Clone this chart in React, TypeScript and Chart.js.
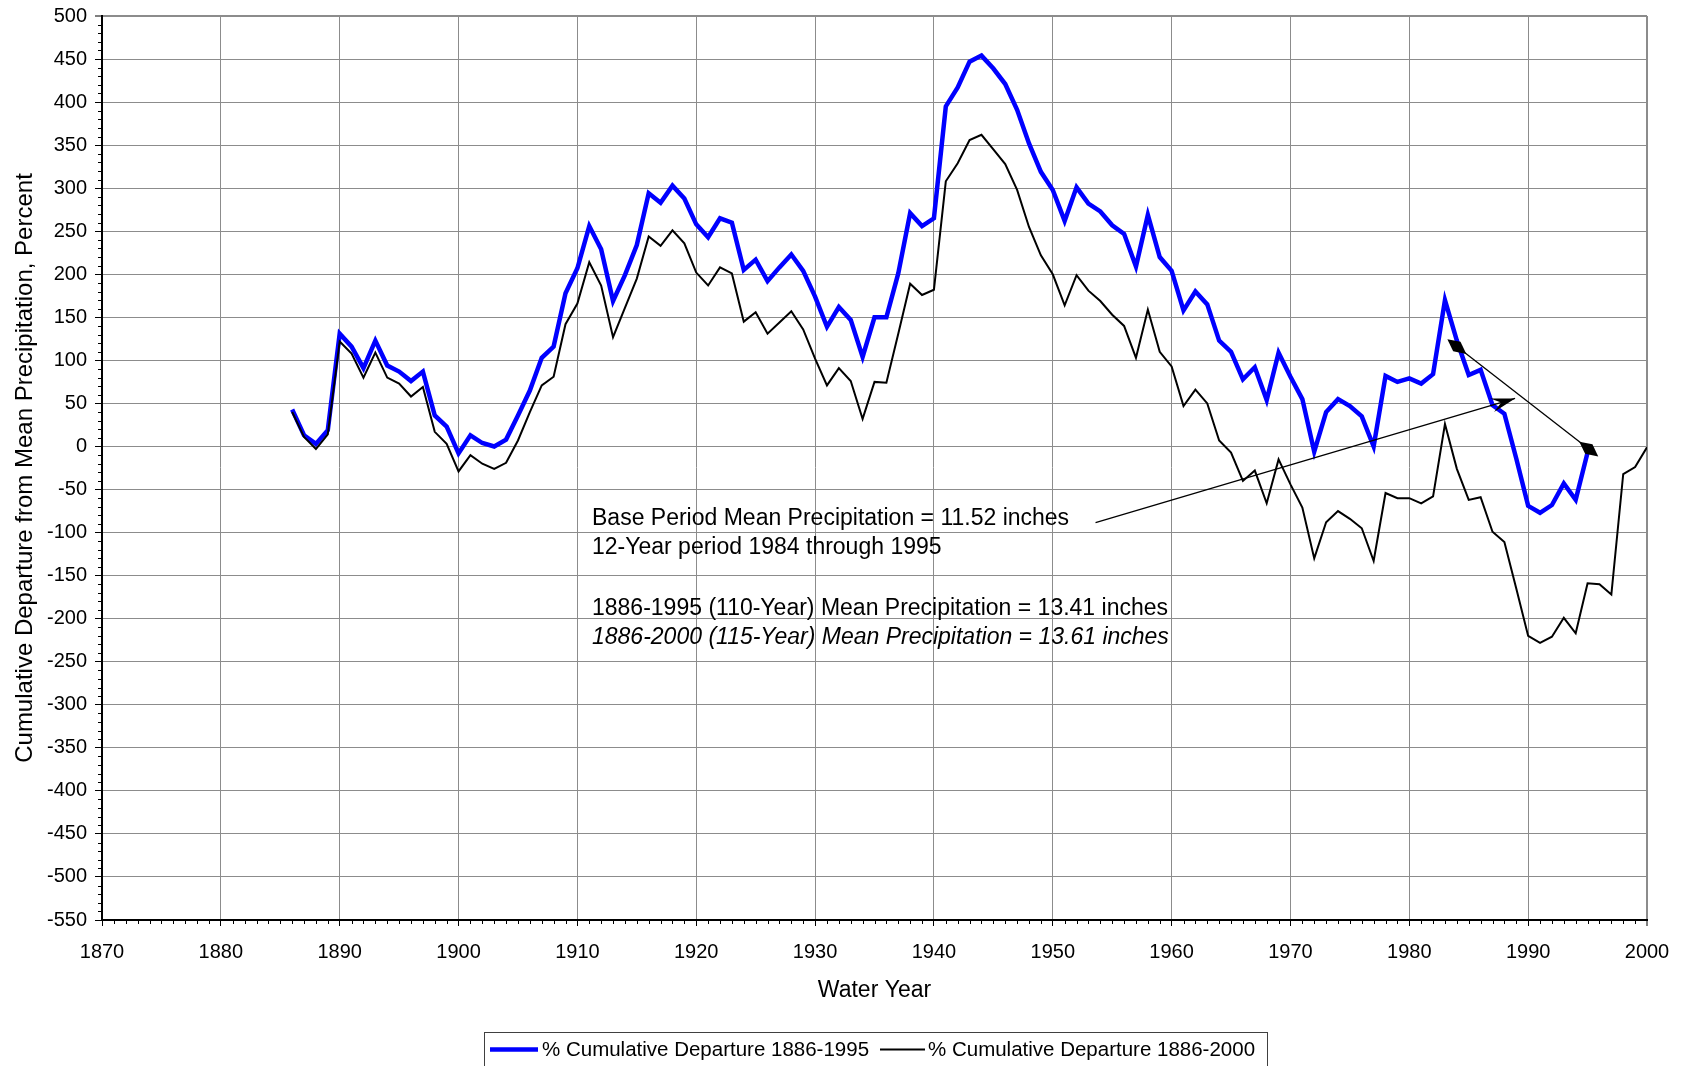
import React, { useEffect, useRef } from 'react';
import { Chart, registerables } from 'chart.js';

Chart.register(...registerables);

// ---------- DATA ----------
const years = [
  1886, 1887, 1888, 1889, 1890, 1891, 1892, 1893, 1894, 1895,
  1896, 1897, 1898, 1899, 1900, 1901, 1902, 1903, 1904, 1905,
  1906, 1907, 1908, 1909, 1910, 1911, 1912, 1913, 1914, 1915,
  1916, 1917, 1918, 1919, 1920, 1921, 1922, 1923, 1924, 1925,
  1926, 1927, 1928, 1929, 1930, 1931, 1932, 1933, 1934, 1935,
  1936, 1937, 1938, 1939, 1940, 1941, 1942, 1943, 1944, 1945,
  1946, 1947, 1948, 1949, 1950, 1951, 1952, 1953, 1954, 1955,
  1956, 1957, 1958, 1959, 1960, 1961, 1962, 1963, 1964, 1965,
  1966, 1967, 1968, 1969, 1970, 1971, 1972, 1973, 1974, 1975,
  1976, 1977, 1978, 1979, 1980, 1981, 1982, 1983, 1984, 1985,
  1986, 1987, 1988, 1989, 1990, 1991, 1992, 1993, 1994, 1995,
  1996, 1997, 1998, 1999, 2000,
];

// % Cumulative Departure 1886-1995 (values for 1886..1995)
const departure1886to1995 = [
  43, 13, 3, 19, 131, 116, 91, 123, 94, 87,
  76, 87, 36, 23, -8, 13, 4, 0, 8, 36,
  65, 103, 116, 178, 207, 256, 229, 169, 199, 234,
  294, 283, 303, 288, 258, 243, 265, 260, 205, 217,
  192, 208, 223, 204, 174, 139, 162, 147, 104, 150,
  150, 201, 271, 256, 265, 395, 417, 447, 454, 439,
  421, 391, 352, 319, 298, 262, 301, 282, 273, 257,
  247, 209, 269, 220, 204, 158, 180, 165, 123, 110,
  78, 92, 54, 109, 81, 55, -6, 40, 55, 47,
  35, 0, 82, 75, 79, 73, 84, 170, 123, 83,
  89, 48, 38, -14, -69, -77, -68, -43, -62, -7,
];

// % Cumulative Departure 1886-2000 (values for 1886..2000)
const departure1886to2000 = [
  40, 11, -3, 14, 122, 108, 80, 109, 80, 73,
  58, 69, 17, 3, -29, -10, -20, -26, -19, 7,
  40, 71, 81, 142, 166, 214, 187, 127, 161, 195,
  244, 233, 251, 236, 202, 187, 208, 201, 145, 156,
  131, 144, 157, 136, 102, 71, 91, 76, 32, 75,
  74, 131, 189, 176, 182, 308, 329, 356, 362, 345,
  328, 298, 255, 222, 200, 164, 199, 181, 169, 153,
  140, 103, 159, 110, 93, 47, 66, 50, 7, -7,
  -40, -28, -66, -15, -44, -71, -130, -88, -75, -84,
  -95, -133, -54, -60, -60, -66, -58, 26, -26, -62,
  -59, -99, -111, -165, -220, -228, -221, -199, -217, -159,
  -160, -172, -32, -24, -1,
];

const seriesLabels = ['% Cumulative Departure 1886-1995', '% Cumulative Departure 1886-2000'];

const xMin = 1870;
const xMax = 2000;
const xStep = 10;
const yMin = -550;
const yMax = 500;
const yStep = 50;

const xTitle = 'Water Year';
const yTitle = 'Cumulative Departure from Mean Precipitation, Percent';

const noteLines = [
  'Base Period Mean Precipitation = 11.52 inches',
  '12-Year period 1984 through 1995',
  '1886-1995 (110-Year) Mean Precipitation = 13.41 inches',
  '1886-2000 (115-Year) Mean Precipitation = 13.61 inches',
];

// annotation arrows in data coordinates [year, value]
const arrowFrom = [1953.6, -88.5];
const arrowTo = [1988.9, 55.8];
const spanFrom = [1984.0, 116];
const spanTo = [1995.1, -3];

// ---------- STYLE ----------
const FONT = '"Liberation Sans", Arial, Helvetica, sans-serif';
const GRID = '#8c8c8c';

const decorPlugin = {
  id: 'decor',
  afterDraw(chart: any) {
    const ctx = chart.ctx as CanvasRenderingContext2D;
    const xs = chart.scales.x;
    const ys = chart.scales.y;
    const area = chart.chartArea;
    ctx.save();

    // minor ticks
    ctx.strokeStyle = '#000';
    ctx.lineWidth = 1;
    ctx.beginPath();
    for (let yr = xMin; yr <= xMax; yr++) {
      if (yr % xStep === 0) continue;
      const px = Math.round(xs.getPixelForValue(yr)) + 0.5;
      ctx.moveTo(px, area.bottom);
      ctx.lineTo(px, area.bottom + 4);
    }
    for (let v = yMin; v <= yMax; v += 10) {
      if (v % yStep === 0) continue;
      const py = Math.round(ys.getPixelForValue(v)) + 0.5;
      ctx.moveTo(area.left - 4, py);
      ctx.lineTo(area.left, py);
    }
    ctx.stroke();

    const P = (p: number[]) => [xs.getPixelForValue(p[0]), ys.getPixelForValue(p[1])];

    // arrow with stealth head
    const [a0x, a0y] = P(arrowFrom);
    const [a1x, a1y] = P(arrowTo);
    ctx.strokeStyle = '#000';
    ctx.fillStyle = '#000';
    ctx.lineWidth = 1.3;
    ctx.beginPath();
    ctx.moveTo(a0x, a0y);
    ctx.lineTo(a1x, a1y);
    ctx.stroke();
    {
      const ang = Math.atan2(a1y - a0y, a1x - a0x);
      const dx = Math.cos(ang), dy = Math.sin(ang);
      const nx = -dy, ny = dx;
      const len = 24, hw = 7;
      ctx.beginPath();
      ctx.moveTo(a1x, a1y);
      ctx.lineTo(a1x - len * dx + hw * nx, a1y - len * dy + hw * ny);
      ctx.lineTo(a1x - len * 0.6 * dx, a1y - len * 0.6 * dy);
      ctx.lineTo(a1x - len * dx - hw * nx, a1y - len * dy - hw * ny);
      ctx.closePath();
      ctx.fill();
    }

    // span line with diamond heads
    const [s0x, s0y] = P(spanFrom);
    const [s1x, s1y] = P(spanTo);
    ctx.beginPath();
    ctx.moveTo(s0x, s0y);
    ctx.lineTo(s1x, s1y);
    ctx.stroke();
    const diamond = (cx: number, cy: number) => {
      const ang = Math.atan2(s1y - s0y, s1x - s0x);
      const dx = Math.cos(ang), dy = Math.sin(ang);
      const nx = -dy, ny = dx;
      const hl = 12, hw = 6;
      ctx.beginPath();
      ctx.moveTo(cx + hl * dx, cy + hl * dy);
      ctx.lineTo(cx + hw * nx, cy + hw * ny);
      ctx.lineTo(cx - hl * dx, cy - hl * dy);
      ctx.lineTo(cx - hw * nx, cy - hw * ny);
      ctx.closePath();
      ctx.fill();
    };
    diamond(s0x, s0y);
    diamond(s1x, s1y);

    // notes
    ctx.fillStyle = '#000';
    ctx.textAlign = 'left';
    ctx.textBaseline = 'alphabetic';
    ctx.font = `23px ${FONT}`;
    ctx.fillText(noteLines[0], 592, 525);
    ctx.fillText(noteLines[1], 592, 554);
    ctx.fillText(noteLines[2], 592, 615);
    ctx.font = `italic 23px ${FONT}`;
    ctx.fillText(noteLines[3], 592, 644);

    // legend
    ctx.strokeStyle = '#404040';
    ctx.lineWidth = 1;
    ctx.strokeRect(484.5, 1032.5, 783, 50);
    ctx.font = `20.5px ${FONT}`;
    ctx.textBaseline = 'middle';
    ctx.strokeStyle = '#0000ff';
    ctx.lineWidth = 4.5;
    ctx.beginPath();
    ctx.moveTo(490, 1049.5);
    ctx.lineTo(538, 1049.5);
    ctx.stroke();
    ctx.fillStyle = '#000';
    ctx.fillText(seriesLabels[0], 542, 1050);
    ctx.strokeStyle = '#000';
    ctx.lineWidth = 2;
    ctx.beginPath();
    ctx.moveTo(880, 1049.5);
    ctx.lineTo(925, 1049.5);
    ctx.stroke();
    ctx.fillText(seriesLabels[1], 928, 1050);

    ctx.restore();
  },
};

export default function App() {
  const ref = useRef<HTMLCanvasElement | null>(null);

  useEffect(() => {
    document.body.style.margin = '0';
    const canvas = ref.current;
    if (!canvas) return;

    const blueData = departure1886to1995.map((v, i) => ({ x: years[i], y: v }));
    const blackData = departure1886to2000.map((v, i) => ({ x: years[i], y: v }));

    const chart = new Chart(canvas, {
      type: 'line',
      data: {
        datasets: [
          {
            label: seriesLabels[0],
            data: blueData,
            borderColor: '#0000ff',
            backgroundColor: '#0000ff',
            borderWidth: 4.5,
            pointRadius: 0,
            tension: 0,
            fill: false,
            order: 1,
          },
          {
            label: seriesLabels[1],
            data: blackData,
            borderColor: '#000000',
            backgroundColor: '#000000',
            borderWidth: 2,
            pointRadius: 0,
            tension: 0,
            fill: false,
            order: 0,
          },
        ],
      },
      options: {
        responsive: false,
        animation: false,
        devicePixelRatio: 1,
        layout: { padding: { left: 0, right: 34, top: 16, bottom: 0 } },
        plugins: {
          legend: { display: false },
          tooltip: { enabled: false },
        },
        scales: {
          x: {
            type: 'linear',
            min: xMin,
            max: xMax,
            ticks: {
              stepSize: xStep,
              autoSkip: false,
              maxRotation: 0,
              color: '#000',
              padding: 14,
              font: { family: FONT, size: 20 },
              callback: (v: any) => String(v),
            },
            grid: {
              color: (c: any) => (c.tick && c.tick.value === xMin ? 'rgba(0,0,0,0)' : GRID),
              lineWidth: (c: any) => (c.tick && c.tick.value === xMax ? 2 : 1),
              tickColor: '#000',
              tickLength: 6,
              tickWidth: 1,
              drawTicks: true,
            },
            border: { display: true, color: '#000', width: 2 },
            title: {
              display: true,
              text: xTitle,
              color: '#000',
              font: { family: FONT, size: 23 },
              padding: { top: 0, bottom: 62 },
            },
            afterFit: (s: any) => {
              s.height = 146;
              s.paddingLeft = 0;
              s.paddingRight = 0;
            },
          },
          y: {
            type: 'linear',
            min: yMin,
            max: yMax,
            ticks: {
              stepSize: yStep,
              autoSkip: false,
              color: '#000',
              padding: 8,
              font: { family: FONT, size: 20 },
              callback: (v: any) => String(v),
            },
            grid: {
              color: (c: any) => (c.tick && c.tick.value === yMin ? 'rgba(0,0,0,0)' : GRID),
              lineWidth: (c: any) => (c.tick && c.tick.value === yMax ? 2 : 1),
              tickColor: '#000',
              tickLength: 7,
              tickWidth: 1,
              drawTicks: true,
            },
            border: { display: true, color: '#000', width: 2 },
            title: {
              display: true,
              text: yTitle,
              color: '#000',
              font: { family: FONT, size: 24 },
              padding: { top: 11, bottom: 0 },
            },
            afterFit: (s: any) => {
              s.width = 102;
              s.paddingTop = 0;
              s.paddingBottom = 0;
            },
          },
        },
      } as any,
      plugins: [decorPlugin],
    });

    return () => chart.destroy();
  }, []);

  return (
    <canvas
      ref={ref}
      width={1681}
      height={1066}
      style={{ display: 'block', width: 1681, height: 1066 }}
    />
  );
}
